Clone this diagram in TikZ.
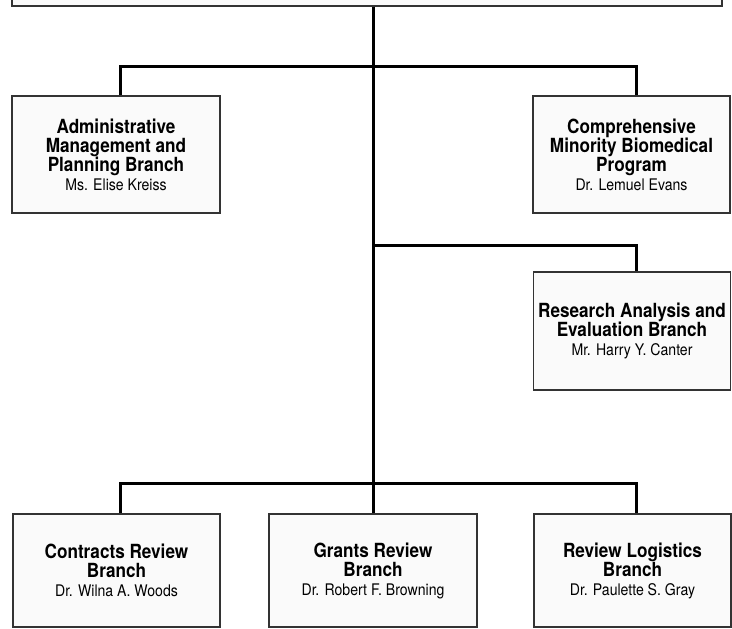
\documentclass[tikz,border=0pt]{standalone}
\usepackage{fontspec}
\setmainfont[FakeStretch=0.88]{TeX Gyre Heros}
\usepackage{tikz}

\begin{document}
\begin{tikzpicture}[x=1pt,y=-1pt]
        \path[use as bounding box] (0,0) rectangle (732,629);
        \clip (0,0) rectangle (732,629);
        \begin{scope}[every node/.style={fill=blue!2!black!2,draw=black!80,line width=1.3pt,rectangle,align=center,
                inner sep=0pt,font=\fontsize{19.5}{19}\selectfont\bfseries}]
            \node[minimum width=710,minimum height=40] (0) at (367,-14) {};

            \node[minimum width=208,minimum height=117] (1) at (116,154.5)
                {Administrative\\Management and\\Planning Branch\\\mdseries\fontsize{16}{19}\selectfont Ms. Elise Kreiss};
            \node[minimum width=197,minimum height=117] (2) at (631.5,154.5)
                {Comprehensive\\Minority Biomedical\\Program\\\mdseries\fontsize{16}{19}\selectfont Dr. Lemuel Evans};

            \node[minimum width=197,minimum height=118] (3) at (632,331)
                {Research Analysis and\\Evaluation Branch\\\mdseries\fontsize{16}{19}\selectfont Mr. Harry Y. Canter};

            \node[minimum width=207,minimum height=113] (4) at (116.5,570.5)
                {Contracts Review\\Branch\\\mdseries\fontsize{16}{19}\selectfont Dr. Wilna A. Woods};
            \node[minimum width=208,minimum height=113] (5) at (373,570.5)
                {Grants Review\\Branch\\\mdseries\fontsize{16}{19}\selectfont Dr. Robert F. Browning};
            \node[minimum width=197,minimum height=113] (6) at (632.5,570.5)
                {Review Logistics\\Branch\\\mdseries\fontsize{16}{19}\selectfont Dr. Paulette S. Gray};
        \end{scope}
        % trunk and branch points
        \coordinate (t1) at (373,66);
        \coordinate (t2) at (373,245);
        \coordinate (t3) at (373,483);
        \coordinate (l1) at (120,66);
        \coordinate (r1) at (636,66);
        \coordinate (r2) at (636,245);
        \coordinate (l3) at (120,483);
        \coordinate (r3) at (636,483);
        \begin{scope}[every edge/.style={draw,line width=3pt}]
            \path [-] (0.south -| t1) edge node {} (t3);

            \path [-] (1.north -| l1) edge[to path={|- (\tikztotarget)}] node {} (t1);
            \path [-] (t1) edge[to path={-| (\tikztotarget)}] node {} (2.north -| r1);

            \path [-] (t2) edge[to path={-| (\tikztotarget)}] node {} (3.north -| r2);

            \path [-] (4.north -| l3) edge[to path={|- (\tikztotarget)}] node {} (t3);
            \path [-] (t3) edge[to path={-| (\tikztotarget)}] node {} (6.north -| r3);
            \path [-] (t3) edge node {} (5.north);
        \end{scope}
    \end{tikzpicture}
\end{document}
